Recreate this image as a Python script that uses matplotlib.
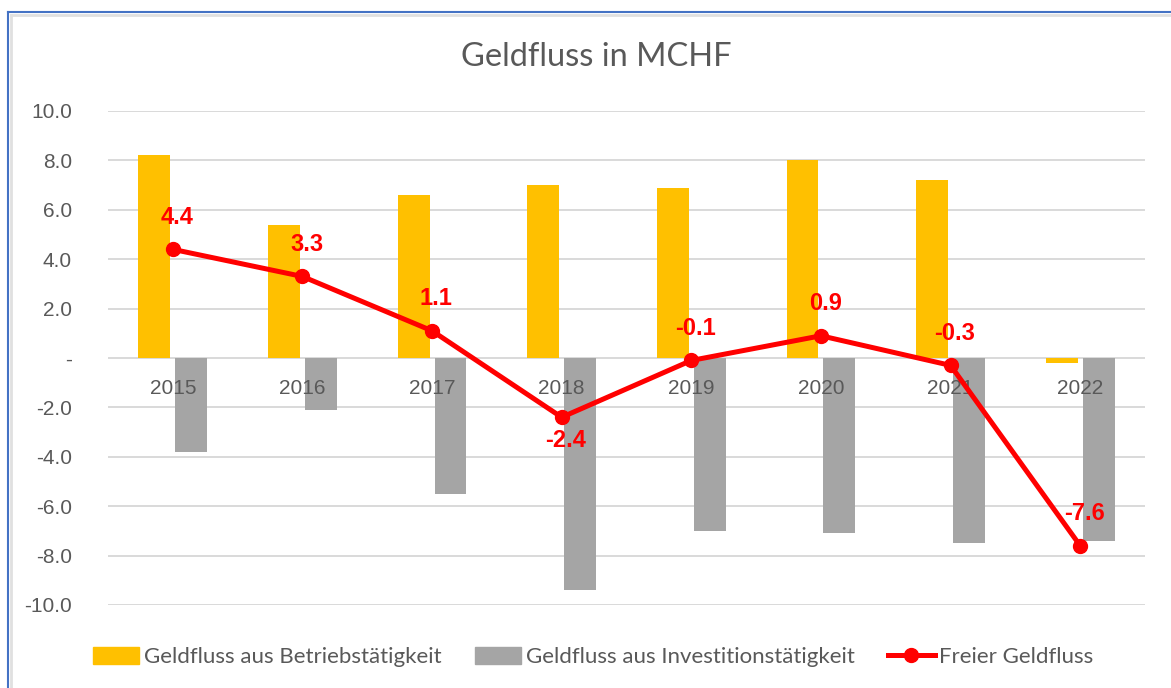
import numpy as np
import matplotlib.pyplot as plt
from matplotlib.lines import Line2D
from matplotlib.patches import Patch

# Geldfluss in MCHF
years = ['2015', '2016', '2017', '2018', '2019', '2020', '2021', '2022']
betrieb = [8.2, 5.4, 6.6, 7.0, 6.9, 8.0, 7.2, -0.2]
investition = [-3.8, -2.1, -5.5, -9.4, -7.0, -7.1, -7.5, -7.4]
frei = [4.4, 3.3, 1.1, -2.4, -0.1, 0.9, -0.3, -7.6]
yticks = [-10, -8, -6, -4, -2, 0, 2, 4, 6, 8, 10]

grey_txt = '#595959'
orange = '#FFC000'
grey_bar = '#A5A5A5'
red = '#FF0000'

fig = plt.figure(figsize=(11.71, 6.88), dpi=100)
ax = fig.add_axes([108/1171, 1 - 605/688, 1037/1171, 494/688])

x = np.arange(len(years))
w = 0.246
ax.bar(x - 0.142, betrieb, w, color=orange, zorder=2)
ax.bar(x + 0.142, investition, w, color=grey_bar, zorder=2)
ax.plot(x, frei, color=red, lw=3.6, marker='o', ms=10, zorder=4,
        solid_capstyle='round')

# data labels of the free cash flow
for i, v in enumerate(frei):
    dy = -17 if years[i] == '2018' else 23
    ax.annotate(f'{v:.1f}', (i, v), xytext=(3, dy), textcoords='offset points',
                ha='center', va='center', color=red, fontsize=17,
                fontweight='bold', family='Liberation Sans', zorder=5)

# category labels sit below the zero line, drawn over the bars
for i, yr in enumerate(years):
    ax.annotate(yr, (i, 0), xytext=(0, -22), textcoords='offset points',
                ha='center', va='center', color=grey_txt, fontsize=15,
                family='Liberation Sans', zorder=3)

ax.set_xlim(-0.5, len(years) - 0.5)
ax.set_ylim(-10, 10)
ax.set_yticks(yticks)
ax.set_yticklabels(['-' if t == 0 else f'{t:.1f}' for t in yticks],
                   family='Liberation Sans', fontsize=15, color=grey_txt)
ax.set_xticks([])
ax.tick_params(axis='y', length=0, pad=26)
ax.grid(axis='y', color='#D9D9D9', lw=1.4, zorder=0)
for s in ax.spines.values():
    s.set_visible(False)

fig.text(596/1171, 1 - 57/688, 'Geldfluss in MCHF', ha='center', va='center',
         fontsize=23.5, color=grey_txt, family='Lato')

handles = [Patch(color=orange), Patch(color=grey_bar),
           Line2D([], [], color=red, lw=3.6, marker='o', ms=10)]
labels = ['Geldfluss aus Betriebstätigkeit', 'Geldfluss aus Investitionstätigkeit',
          'Freier Geldfluss']
leg = fig.legend(handles, labels, loc='center', bbox_to_anchor=(593/1171, 1 - 657/688),
                 ncol=3, frameon=False, handlelength=2.1, handleheight=0.85,
                 handletextpad=0.2, columnspacing=1.5,
                 prop={'family': 'Lato', 'size': 16})
for t in leg.get_texts():
    t.set_color(grey_txt)

# chart frame (Excel selection border)
fig.add_artist(Line2D([8/1171, 8/1171], [0, 1 - 12/688], color='#4472C4', lw=1.5))
fig.add_artist(Line2D([8/1171, 1], [1 - 12/688, 1 - 12/688], color='#4472C4', lw=1.5))
fig.add_artist(Line2D([11/1171, 11/1171], [0, 1 - 15/688], color='#E0E0E0', lw=2))
fig.add_artist(Line2D([11/1171, 1], [1 - 15/688, 1 - 15/688], color='#E0E0E0', lw=2))

fig.savefig('out.png', dpi=100)
